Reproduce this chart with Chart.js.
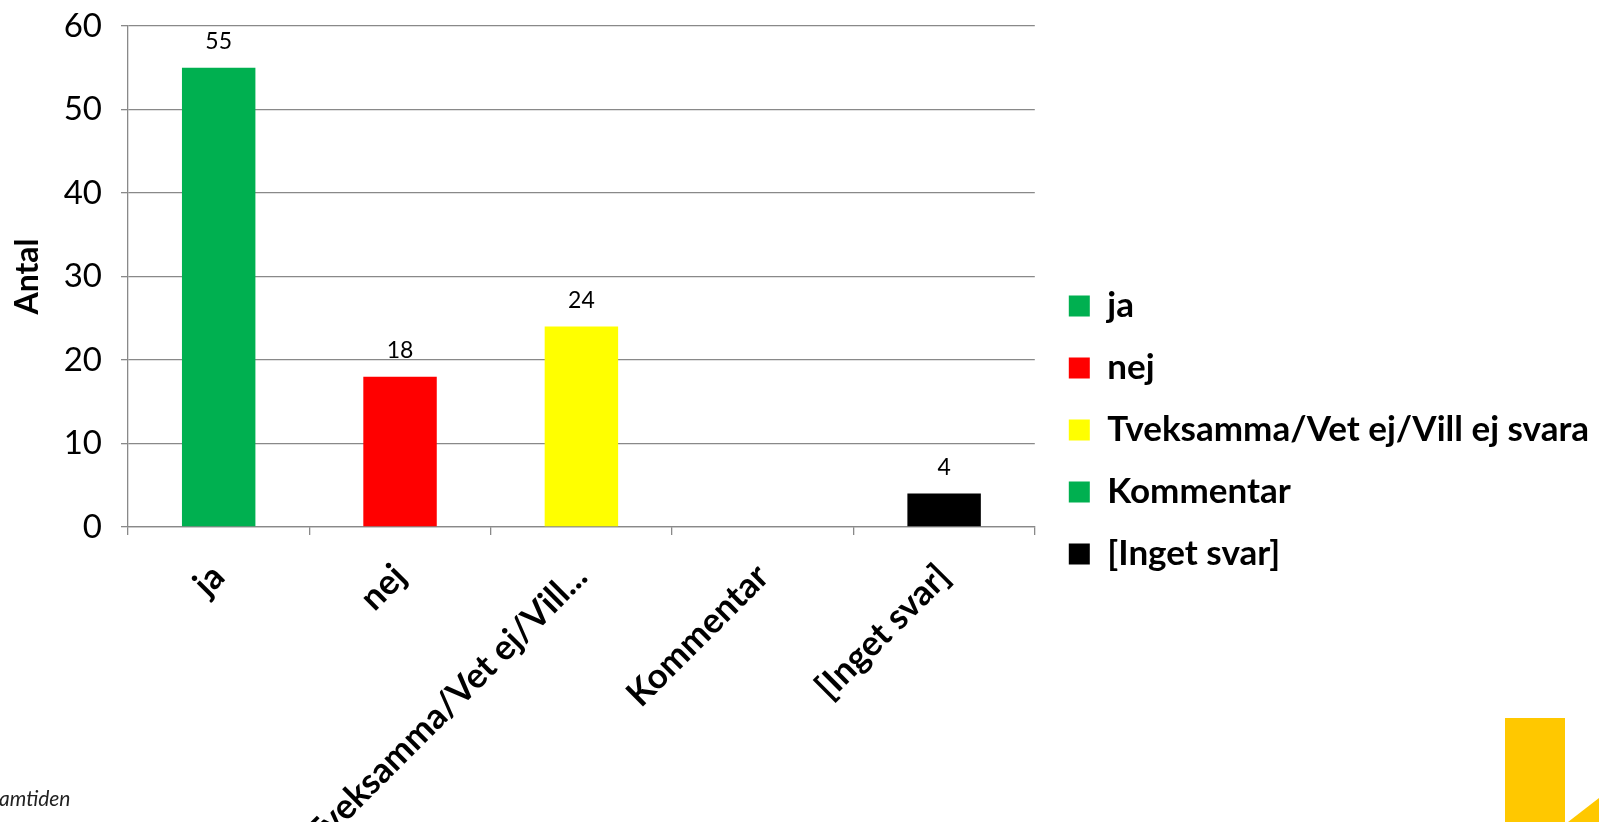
<!DOCTYPE html>
<html>
<head>
<meta charset="utf-8">
<script src="https://cdn.jsdelivr.net/npm/chart.js@4/dist/chart.umd.min.js"></script>
<style>
  html, body { margin: 0; padding: 0; background: #fff; overflow: hidden; }
  #wrap { position: relative; width: 1599px; height: 822px; }
  #chart { display: block; }
  /* slide decorations */
  .logo { position: absolute; left: -1px; top: 785px; font: italic 21px 'Lato', sans-serif; color: #222; }
  .deco { position: absolute; background: #FFC800; }
  .bar-deco { left: 1505px; top: 718px; width: 60px; height: 104px; }
  .wedge { left: 1568px; top: 798px; width: 31px; height: 24px; clip-path: polygon(0 100%, 100% 0, 100% 100%); }
</style>
</head>
<body>
<div id="wrap">
  <canvas id="chart" width="1599" height="822"></canvas>
  <div class="logo">amtiden</div>
  <div class="deco bar-deco"></div>
  <div class="deco wedge"></div>
</div>
<script>
var categories = ['ja', 'nej', 'Tveksamma/Vet ej/Vill ej svara', 'Kommentar', '[Inget svar]'];
var counts = [55, 18, 24, 0, 4];
var barColors = ['#00B050', '#FF0000', '#FFFF00', '#00B050', '#000000'];
var yTicks = [0, 10, 20, 30, 40, 50, 60];
var yTitle = 'Antal';

var GRID = '#898989';

// value above each bar (0 is left blank, like the original)
var valueLabels = {
    id: 'valueLabels',
    afterDatasetsDraw: function (chart) {
        var ctx = chart.ctx;
        var meta = chart.getDatasetMeta(0);
        ctx.save();
        ctx.font = '23px Lato';
        ctx.fillStyle = '#000';
        ctx.textAlign = 'center';
        ctx.textBaseline = 'middle';
        meta.data.forEach(function (bar, i) {
            var v = chart.data.datasets[0].data[i];
            if (!v) return;
            ctx.fillText(String(v), bar.x, bar.y - 26);
        });
        ctx.restore();
    }
};

function shorten(label) {
    return label.length > 24 ? label.slice(0, 21) + '...' : label;
}

new Chart(document.getElementById('chart'), {
    type: 'bar',
    data: {
        labels: categories,
        datasets: [{
            data: counts,
            backgroundColor: barColors,
            borderWidth: 0,
            barPercentage: 0.405,
            categoryPercentage: 1
        }]
    },
    plugins: [valueLabels],
    options: {
        responsive: false,
        animation: false,
        layout: { padding: { top: 26, right: 0, bottom: 0, left: 0 } },
        plugins: {
            tooltip: { enabled: false },
            legend: {
                position: 'right',
                maxWidth: 620,
                title: { display: true, text: ' ', font: { size: 10, lineHeight: 1 }, padding: { top: 1, bottom: 1 } },
                labels: {
                    color: '#000',
                    boxWidth: 21,
                    boxHeight: 21,
                    padding: 27,
                    font: { family: 'Lato', size: 35, weight: 'bold' },
                    generateLabels: function () {
                        return categories.map(function (name, i) {
                            return {
                                text: name,
                                fillStyle: barColors[i],
                                strokeStyle: barColors[i],
                                fontColor: '#000',
                                lineWidth: 0,
                                hidden: false,
                                index: i
                            };
                        });
                    }
                }
            }
        },
        scales: {
            x: {
                grid: { offset: true, drawOnChartArea: false, drawTicks: true, tickLength: 8, color: GRID, lineWidth: 1.3 },
                border: { color: GRID, width: 1.3 },
                ticks: {
                    color: '#000',
                    font: { family: 'Lato', size: 35, weight: 'bold' },
                    maxRotation: 45,
                    minRotation: 45,
                    autoSkip: false,
                    padding: 21,
                    labelOffset: 0,
                    callback: function (value) { return shorten(this.getLabelForValue(value)); }
                },
                afterFit: function (s) { s.height = 295; }
            },
            y: {
                min: yTicks[0],
                max: yTicks[yTicks.length - 1],
                grid: { color: GRID, lineWidth: 1.3, tickLength: 7 },
                border: { color: GRID, width: 1.3 },
                ticks: {
                    stepSize: yTicks[1] - yTicks[0],
                    color: '#000',
                    padding: 19,
                    font: { family: 'Lato', size: 33 }
                },
                title: {
                    display: true,
                    text: yTitle,
                    color: '#000',
                    font: { family: 'Lato', size: 32, weight: 'bold' },
                    padding: { top: 8, bottom: 0 }
                },
                afterFit: function (s) {
                    s.width = 128;
                    s.paddingTop = 0;
                    s.paddingBottom = 0;
                }
            },
            yGap: {
                position: 'right',
                grid: { display: false },
                border: { display: false },
                ticks: { display: false },
                afterFit: function (s) { s.width = 7; }
            }
        }
    }
});
</script>
</body>
</html>
